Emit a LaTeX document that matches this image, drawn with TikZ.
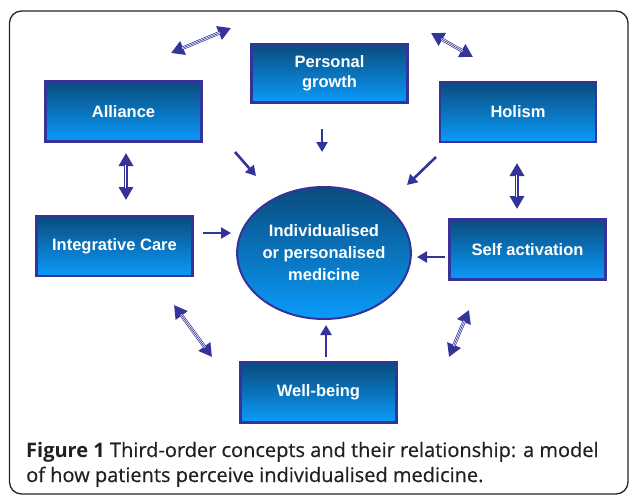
\documentclass[tikz,border=0pt]{standalone}
\usepackage{fontspec}
\setmainfont{Liberation Sans}
\newfontfamily\capfont[FakeBold=0.5, BoldFeatures={FakeBold=0}]{Open Sans}
\usetikzlibrary{arrows.meta,shapes.geometric}
\definecolor{ind}{HTML}{333399}
\definecolor{boxtop}{HTML}{0A4B7D}
\definecolor{boxmid}{HTML}{0A86E0}
\definecolor{boxbot}{HTML}{0A9BFA}
\definecolor{captxt}{HTML}{231F20}
\tikzset{
  box/.style={draw=ind, line width=2.5pt, top color=boxtop, middle color=boxmid, bottom color=boxbot,
    text=white, font=\bfseries\fontsize{16.5}{20}\selectfont, align=center, inner sep=0pt,
    minimum width=156pt, minimum height=60pt},
  ellbox/.style={ellipse, draw=ind, line width=2pt, top color=boxtop, middle color=boxmid, bottom color=boxbot,
    text=white, font=\bfseries\fontsize{16.5}{22}\selectfont, align=center, inner sep=0pt,
    minimum width=168pt, minimum height=132pt},
  sarr/.style={draw=ind, line width=2.6pt, -{Triangle[length=10pt,width=11pt]}},
  dbl/.style={draw=ind, line width=3.4pt, {Triangle[length=13pt,width=14pt]}-{Triangle[length=13pt,width=14pt]},
    postaction={draw=white, line width=2pt, -, shorten <=12pt, shorten >=12pt},
    postaction={draw=ind, line width=0.6pt, -, shorten <=12pt, shorten >=12pt}},
  captext/.style={anchor=base west, inner sep=0pt, text=captxt, font=\capfont\fontsize{20}{24}\selectfont}
}
\begin{document}
\begin{tikzpicture}[x=1pt,y=-1pt]
\useasboundingbox (0,0) rectangle (629,495);
\draw[line width=1.3pt, rounded corners=12pt, draw=black!85] (9.5,11) rectangle (628,494);

\node[box] (alliance) at (123.5,111.5) {Alliance};
\node[box, minimum height=58pt] (growth) at (329.5,73.5) {Personal\\growth};
\node[box] (holism) at (518,112) {Holism};
\node[box] (integ) at (114.5,246) {Integrative Care};
\node[box] (self) at (527.5,249.5) {Self activation};
\node[box] (well) at (318.5,392.5) {Well-being};
\node[ellbox] (med) at (324,253) {Individualised\\or personalised\\medicine};

% double arrows
\coordinate (d1a) at (171,53);  \coordinate (d1b) at (231,28);
\coordinate (d2a) at (431,33);  \coordinate (d2b) at (473,57);
\coordinate (d3a) at (126,153); \coordinate (d3b) at (126,200);
\coordinate (d4a) at (517,163); \coordinate (d4b) at (517,209);
\coordinate (d5a) at (174,305); \coordinate (d5b) at (212,357);
\coordinate (d6a) at (469,310); \coordinate (d6b) at (449,357);
\draw[dbl] (d1a) -- (d1b);
\draw[dbl] (d2a) -- (d2b);
\draw[dbl] (d3a) -- (d3b);
\draw[dbl] (d4a) -- (d4b);
\draw[dbl] (d5a) -- (d5b);
\draw[dbl] (d6a) -- (d6b);

% single arrows into the ellipse
\coordinate (s1a) at (235,152); \coordinate (s1b) at (256,176);
\coordinate (s2a) at (322,129); \coordinate (s2b) at (322,152);
\coordinate (s3a) at (436,157); \coordinate (s3b) at (407,185);
\coordinate (s4a) at (203,233); \coordinate (s4b) at (231,233);
\coordinate (s5a) at (445,257); \coordinate (s5b) at (417,257);
\coordinate (s6a) at (326,357); \coordinate (s6b) at (326,325);
\draw[sarr] (s1a) -- (s1b);
\draw[sarr] (s2a) -- (s2b);
\draw[sarr] (s3a) -- (s3b);
\draw[sarr] (s4a) -- (s4b);
\draw[sarr] (s5a) -- (s5b);
\draw[sarr] (s6a) -- (s6b);

\node[captext] (cap1) at (26,457) {\textbf{Figure 1} Third-order concepts and their relationship: a model};
\node[captext] (cap2) at (26,482) {of how patients perceive individualised medicine.};
\end{tikzpicture}
\end{document}
